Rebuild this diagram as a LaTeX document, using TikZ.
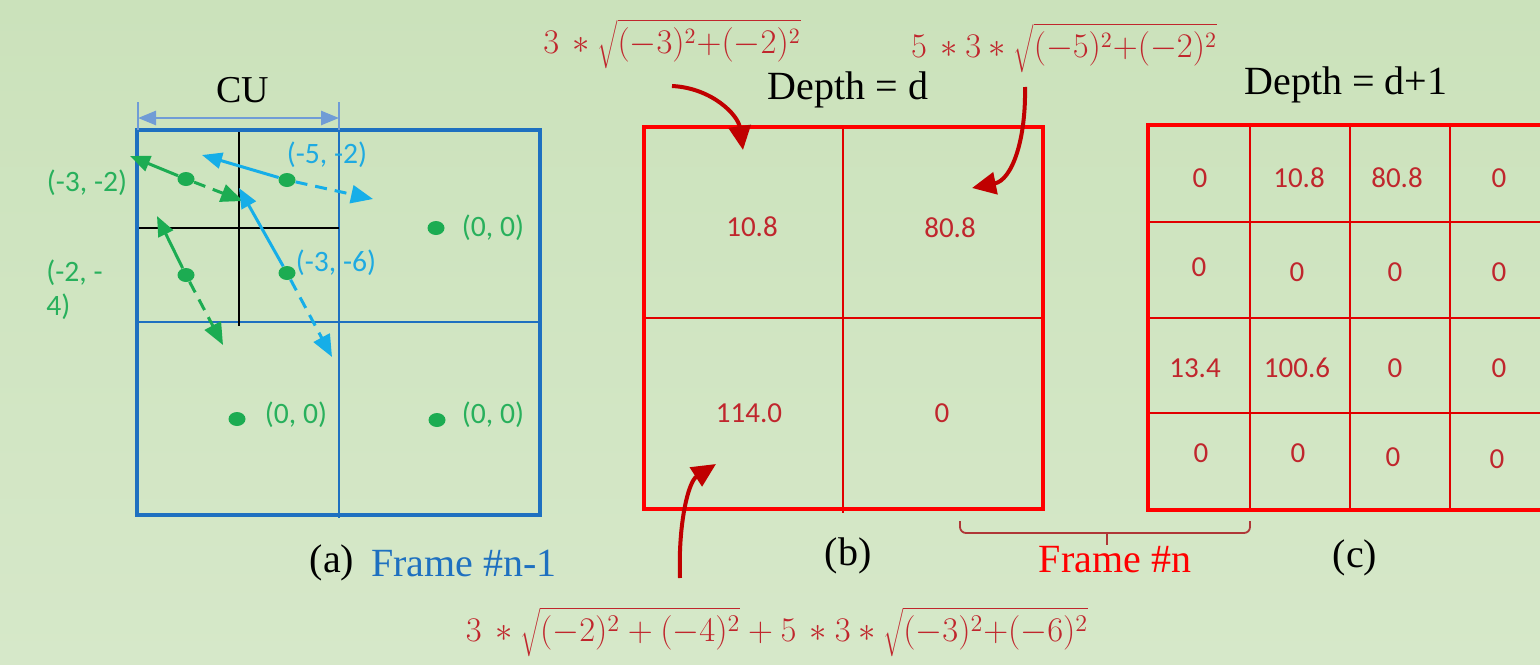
\documentclass[tikz,border=0pt]{standalone}
\usepackage{fontspec}
\setmainfont{Carlito}
\newfontfamily\serifN{Liberation Serif}
\usetikzlibrary{arrows.meta,shapes.geometric}
\definecolor{bgtop}{RGB}{203,226,187}
\definecolor{bgbot}{RGB}{214,232,201}
\definecolor{frameblue}{RGB}{30,112,192}
\definecolor{vgreen}{RGB}{28,172,82}
\definecolor{vcyan}{RGB}{22,174,232}
\definecolor{cublue}{RGB}{112,156,214}
\definecolor{lgreen}{RGB}{40,176,92}
\definecolor{lcyan}{RGB}{30,170,225}
\definecolor{cellred}{RGB}{192,38,45}
\definecolor{boxred}{RGB}{255,0,0}
\definecolor{gridred}{RGB}{225,0,0}
\definecolor{arrred}{RGB}{192,0,0}
\definecolor{bracered}{RGB}{175,55,55}
\begin{document}
\begin{tikzpicture}[x=0.5pt,y=-0.5pt,
  lbl/.style={font=\fontsize{14.8}{17}\selectfont, inner sep=0pt},
  cell/.style={font=\fontsize{14.5}{16}\selectfont, text=cellred, inner sep=0pt},
  serif/.style={font=\serifN\fontsize{20}{22}\selectfont, inner sep=0pt},
  vsolid/.style={line width=1.5pt, -{Triangle[length=10pt,width=8pt]}},
  vdash/.style={line width=1.5pt, dash pattern=on 6pt off 4pt, -{Triangle[length=11pt,width=9pt]}},
  dotn/.style={ellipse, fill=vgreen, minimum width=8.5pt, minimum height=7pt, inner sep=0pt},
  curv/.style={draw=arrred, line width=2pt, -{Triangle[length=12pt,width=11pt]}},
  formula/.style={text=cellred, inner sep=0pt, font=\fontsize{16}{19}\selectfont},
  outerblue/.style={draw=frameblue, line width=2pt},
  innerblue/.style={draw=frameblue, line width=1pt},
  outerred/.style={draw=boxred, line width=2pt},
  innerred/.style={draw=gridred, line width=1pt}
]
\path[use as bounding box] (0,0) rectangle (1540,664);
\shade[top color=bgtop, bottom color=bgbot] (0,0) rectangle (1540,664);
\begin{scope}
\clip (0,0) rectangle (1540,664);

% ---------- panel (a) ----------
\draw[innerblue] (339,130) -- (339,518);
\draw[innerblue] (137,322) -- (540,322);
\draw[black, line width=0.8pt] (239,130) -- (239,326);
\draw[black, line width=0.8pt] (137,228) -- (339,228);
\draw[outerblue] (137,130) rectangle (540,515);

% CU dimension
\coordinate (cuL) at (138,118);
\coordinate (cuR) at (339,118);
\draw[cublue, line width=0.8pt] (138,102) -- (138,130);
\draw[cublue, line width=0.8pt] (339,102) -- (339,130);
\draw[cublue, line width=1.3pt, {Triangle[length=9pt,width=7pt]}-{Triangle[length=9pt,width=7pt]}] (cuL) -- (cuR);
\node[serif, font=\serifN\fontsize{19}{21}\selectfont] (cu) at (243,90) {CU};

% motion vectors
\node[dotn] (d1) at (186,179) {};
\node[dotn] (d2) at (186,275) {};
\node[dotn] (d3) at (287,180) {};
\node[dotn] (d4) at (287,273) {};
\coordinate (s1) at (130,156);
\coordinate (e1) at (243,201);
\coordinate (s2) at (157,216);
\coordinate (e2) at (223,345);
\coordinate (s3) at (202,155);
\coordinate (e3) at (373,199);
\coordinate (s4) at (239,188);
\coordinate (e4) at (332,357);
\draw[vsolid, vgreen] (d1) -- (s1);
\draw[vdash, vgreen] (d1) -- (e1);
\draw[vsolid, vgreen] (d2) -- (s2);
\draw[vdash, vgreen] (d2) -- (e2);
\draw[vsolid, vcyan] (d3) -- (s3);
\draw[vdash, vcyan] (d3) -- (e3);
\draw[vsolid, vcyan] (d4) -- (s4);
\draw[vdash, vcyan] (d4) -- (e4);

\node[dotn] (z1) at (436,228) {};
\node[dotn] (z2) at (237,419) {};
\node[dotn] (z3) at (437,420) {};

\node[lbl, text=lgreen] (l1) at (87,183) {(-3, -2)};
\node[lbl, text=lgreen, anchor=west, align=left] (l2) at (46,290) {(-2, -\\4)};
\node[lbl, text=lcyan] (l3) at (327,155) {(-5, -2)};
\node[lbl, text=lcyan] (l4) at (336,263) {(-3, -6)};
\node[lbl, text=lgreen] (l5) at (493,228) {(0, 0)};
\node[lbl, text=lgreen] (l6) at (296,415) {(0, 0)};
\node[lbl, text=lgreen] (l7) at (493,415) {(0, 0)};

\node[serif] (capa) at (332,563) {(a)};
\node[serif, text=frameblue] (fra) at (464,563) {Frame \#n-1};

% ---------- panel (b) ----------
\draw[innerred] (843,127) -- (843,513);
\draw[innerred] (644,318) -- (1043,318);
\draw[outerred] (644,127) rectangle (1043,509);
\node[cell] (b11) at (752,227) {10.8};
\node[cell] (b12) at (950,228) {80.8};
\node[cell] (b21) at (749,413) {114.0};
\node[cell] (b22) at (942,413) {0};
\node[serif] (depd) at (848,90) {Depth = d};
\node[serif] (capb) at (848,556) {(b)};

% ---------- panel (c) ----------
\foreach \x in {1250,1350,1450} \draw[innerred] (\x,125) -- (\x,510);
\foreach \y in {222,318,413} \draw[innerred] (1148,\y) -- (1555,\y);
\draw[outerred] (1148,125) rectangle (1552,510);
\node[serif] (depd1) at (1346,85) {Depth = d+1};
\node[serif] (capc) at (1355,558) {(c)};

\node[cell] (c11) at (1200,178) {0};
\node[cell] (c12) at (1299,178) {10.8};
\node[cell] (c13) at (1397,178) {80.8};
\node[cell] (c14) at (1499,178) {0};
\node[cell] (c21) at (1199,267) {0};
\node[cell] (c22) at (1297,272) {0};
\node[cell] (c23) at (1395,272) {0};
\node[cell] (c24) at (1499,272) {0};
\node[cell] (c31) at (1195,368) {13.4};
\node[cell] (c32) at (1297,368) {100.6};
\node[cell] (c33) at (1395,368) {0};
\node[cell] (c34) at (1499,368) {0};
\node[cell] (c41) at (1201,453) {0};
\node[cell] (c42) at (1298,453) {0};
\node[cell] (c43) at (1393,457) {0};
\node[cell] (c44) at (1497,459) {0};

% brace and Frame #n
\coordinate (brL) at (960,521);
\coordinate (brR) at (1250,521);
\coordinate (brM) at (1107,545);
\draw[bracered, line width=0.9pt, rounded corners=3pt] (brL) -- (960,533) -- (1250,533) -- (brR);
\draw[bracered, line width=0.9pt] (1107,533) -- (brM);
\node[serif, text=boxred] (frn) at (1115,560) {Frame \#n};

% ---------- formulas and curved arrows ----------
\node[formula] (f1) at (672,44) {$3\,\ast\sqrt{(-3)^2{+}(-2)^2}$};
\node[formula] (f2) at (1064,48) {$5\,\ast 3\ast\sqrt{(-5)^2{+}(-2)^2}$};
\node[formula, font=\fontsize{16.7}{20}\selectfont] (f3) at (777,632) {$3\,\ast\sqrt{(-2)^2+(-4)^2}+5\,\ast 3\ast\sqrt{(-3)^2{+}(-6)^2}$};

\coordinate (a1s) at (672,86);
\coordinate (a1e) at (743,150);
\coordinate (a2s) at (1025,87);
\coordinate (a2e) at (972,188);
\coordinate (a3s) at (680,578);
\coordinate (a3e) at (716,464);
\draw[curv] (a1s) .. controls (712,88) and (738,115) .. (a1e);
\draw[curv] (a2s) .. controls (1026,140) and (1012,180) .. (a2e);
\draw[curv] (a3s) .. controls (678,525) and (688,482) .. (a3e);
\end{scope}
\end{tikzpicture}
\end{document}
